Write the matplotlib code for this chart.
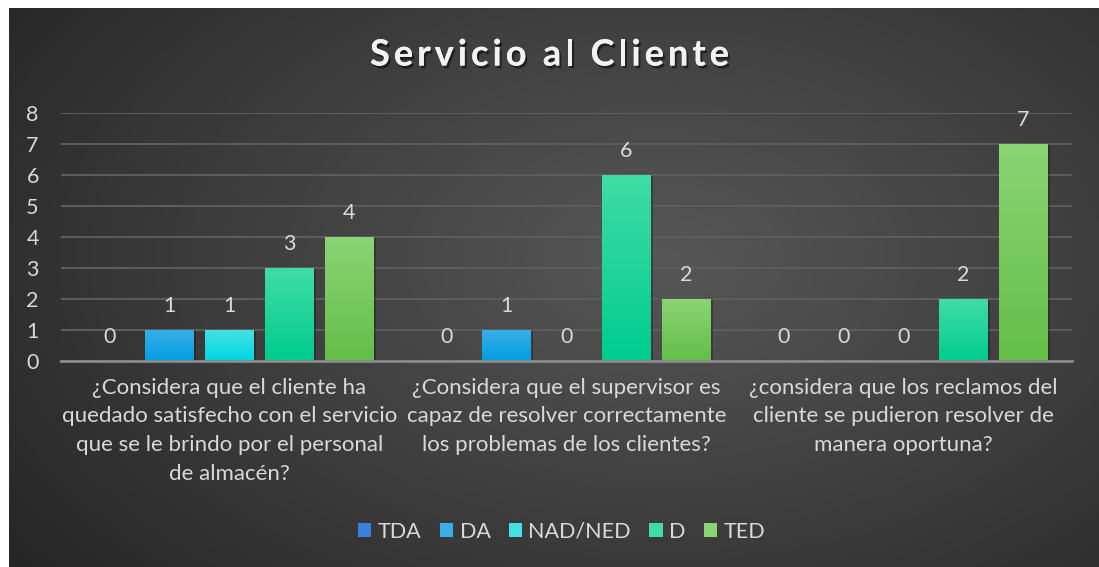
import matplotlib
matplotlib.use("Agg")
import matplotlib.pyplot as plt
import matplotlib.patheffects as pe
import numpy as np
from matplotlib.colors import LinearSegmentedColormap
from matplotlib.patches import Patch

# datos del gráfico
categorias = [
    "¿Considera que el cliente ha\nquedado satisfecho con el servicio\nque se le brindo por el personal\nde almacén?",
    "¿Considera que el supervisor es\ncapaz de resolver correctamente\nlos problemas de los clientes?",
    "¿considera que los reclamos del\ncliente se pudieron resolver de\nmanera oportuna?",
]
series = ["TDA", "DA", "NAD/NED", "D", "TED"]
tda = [0, 0, 0]
da = [1, 1, 0]
nad_ned = [1, 0, 0]
d = [3, 6, 2]
ted = [4, 2, 7]
valores = [tda, da, nad_ned, d, ted]
titulo = "Servicio al Cliente"

# colores (arriba, abajo) del degradado de cada serie
colores = [
    ("#3d80dc", "#0b5fcf"),
    ("#3aaee8", "#009ee0"),
    ("#45e0e3", "#00d6e2"),
    ("#40dca6", "#00cc8e"),
    ("#8ad474", "#64be48"),
]
texto = "#d9d9d9"
fuente = "Lato"
tam = 15.5

fig = plt.figure(figsize=(10.99, 5.67), dpi=100)
fig.patch.set_facecolor("white")

# fondo con degradado radial
fondo = fig.add_axes([9 / 1099, 0, 1 - 9 / 1099, 1 - 8 / 567])
fondo.set_axis_off()
yy, xx = np.mgrid[0:1:300j, 0:1:600j]
r = np.sqrt(((xx - 0.6) / 0.75) ** 2 + ((yy - 0.45) / 0.9) ** 2)
cmap_fondo = LinearSegmentedColormap.from_list("fondo", ["#575757", "#3f3f3f", "#262626"])
fondo.imshow(np.clip(r, 0, 1), cmap=cmap_fondo, aspect="auto", extent=[0, 1, 0, 1], vmin=0, vmax=1)
fondo.set_xlim(0, 1)
fondo.set_ylim(0, 1)

ax = fig.add_axes([61 / 1099, 1 - 361 / 567, (1072 - 61) / 1099, (361 - 113) / 567])
ax.set_facecolor("none")
ax.set_zorder(2)

x = np.arange(len(categorias))
ancho = 0.145
paso = 0.178
for i, (nombre, vals) in enumerate(zip(series, valores)):
    pos = x + (i - 2) * paso
    barras = ax.bar(pos, vals, ancho, color=colores[i][1], label=nombre, zorder=3)
    cmap = LinearSegmentedColormap.from_list(nombre, [colores[i][1], colores[i][0]])
    for b, v in zip(barras, vals):
        if v > 0:
            # sombra
            ax.bar(b.get_x() + b.get_width() / 2 + 0.006, v, ancho, bottom=-0.03,
                   color="black", alpha=0.25, zorder=2, linewidth=0)
            grad = ax.imshow(np.linspace(0, 1, 100).reshape(-1, 1), cmap=cmap, aspect="auto",
                             origin="lower",
                             extent=[b.get_x(), b.get_x() + b.get_width(), 0, v], zorder=4)
            grad.set_clip_path(b)
        ax.text(b.get_x() + b.get_width() / 2, v + 0.45, str(v), ha="center", va="bottom",
                color=texto, fontsize=tam, family=fuente, zorder=5)

ax.set_xlim(-0.5, 2.5)
ax.set_ylim(0, 8)
ax.set_yticks(range(0, 9))
ax.yaxis.grid(True, color="#5c5c5c", linewidth=1.5, zorder=0)
ax.set_axisbelow(True)
for s in ["top", "right", "left"]:
    ax.spines[s].set_visible(False)
ax.spines["bottom"].set_color("#8a8a8a")
ax.spines["bottom"].set_linewidth(2)
ax.spines["bottom"].set_zorder(6)
ax.tick_params(axis="y", length=0, pad=16, labelsize=tam, labelcolor=texto)
ax.tick_params(axis="x", length=0, pad=12, labelsize=16, labelcolor=texto)
ax.set_xticks(x)
ax.set_xticklabels(categorias, linespacing=1.55)
for t in ax.get_xticklabels() + ax.get_yticklabels():
    t.set_family(fuente)

# título con espaciado entre letras
renderer = fig.canvas.get_renderer()
estilo = dict(color="#f2f2f2", fontsize=26, fontweight="bold", family=fuente, va="center",
              path_effects=[pe.withSimplePatchShadow(offset=(1.5, -2), shadow_rgbFace="black",
                                                     alpha=0.5), pe.Normal()])
espacio = 4.0
anchos = []
for ch in titulo:
    t = fig.text(0, 0, ch if ch != " " else "i", **estilo)
    anchos.append(t.get_window_extent(renderer).width * (0.9 if ch == " " else 1))
    t.remove()
total = sum(anchos) + espacio * (len(titulo) - 1)
xp = 1099 / 2 - total / 2
for ch, w in zip(titulo, anchos):
    if ch != " ":
        fig.text(xp / 1099, 1 - 55 / 567, ch, ha="left", **estilo)
    xp += w + espacio

manejadores = [Patch(facecolor=c[0], label=n) for n, c in zip(series, colores)]
leg = fig.legend(handles=manejadores, loc="center", bbox_to_anchor=(0.511, 1 - 532 / 567), ncol=5,
                 frameon=False, handlelength=0.62, handleheight=0.62,
                 handletextpad=0.3, columnspacing=0.85, prop={"family": fuente, "size": tam})
for t in leg.get_texts():
    t.set_color(texto)

fig.savefig("out.png", dpi=100, facecolor=fig.get_facecolor())
